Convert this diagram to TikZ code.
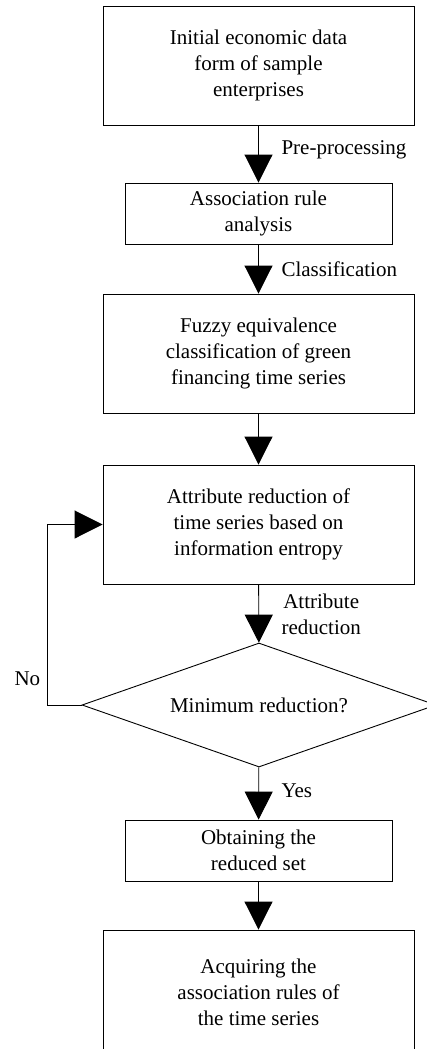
\documentclass[tikz,border=0pt]{standalone}
\usepackage{fontspec}
\setmainfont{Liberation Serif}
\usetikzlibrary{arrows.meta,shapes.geometric}
\begin{document}
\begin{tikzpicture}[x=1pt,y=-1pt,
    font=\fontsize{21}{26}\selectfont,
    block/.style={draw,line width=0.9pt,align=center,inner sep=0pt},
    wide/.style={block,minimum width=311pt,minimum height=119pt},
    narrow/.style={block,minimum width=267pt,minimum height=61pt},
    decision/.style={draw,line width=0.9pt,diamond,aspect=2.85,inner sep=0pt,minimum width=354pt,minimum height=124pt},
    flow/.style={line width=0.9pt,-{Triangle[length=28pt,width=28pt]}},
    note/.style={anchor=west,align=center}]
    \useasboundingbox (0,0) rectangle (426,1049);
    \node[wide] (data) at (258.5,65.5) {Initial economic data\\form of sample\\enterprises};
    \node[narrow] (rule) at (258.5,213.5) {Association rule\\analysis};
    \node[wide] (fuzzy) at (258.5,353.5) {Fuzzy equivalence\\classification of green\\financing time series};
    \node[wide] (reduce) at (258.5,524.5) {Attribute reduction of\\time series based on\\information entropy};
    \node[decision] (minimum) at (259,705) {Minimum reduction?};
    \node[narrow] (reduced) at (258.5,850.5) {Obtaining the\\reduced set};
    \node[wide,minimum height=125pt] (acquire) at (258.5,992.5) {Acquiring the\\association rules of\\the time series};
    \draw[flow] (data) -- (rule);
    \draw[flow] (rule) -- (fuzzy);
    \draw[flow] (fuzzy) -- (reduce);
    \draw[flow] (reduce) -- (minimum);
    \draw[flow] (minimum.west) -- ++(-34,0) |- (reduce.west);
    \draw[flow] (minimum) -- (reduced);
    \draw[flow] (reduced) -- (acquire);
    \node[note] (prep) at (278,150) {Pre-processing};
    \node[note] (classify) at (278,269) {Classification};
    \node[note] (attr) at (278,614) {Attribute\\reduction};
    \node[note] (yes) at (278,791) {Yes};
    \node[note] (no) at (11,679) {No};
\end{tikzpicture}
\end{document}
